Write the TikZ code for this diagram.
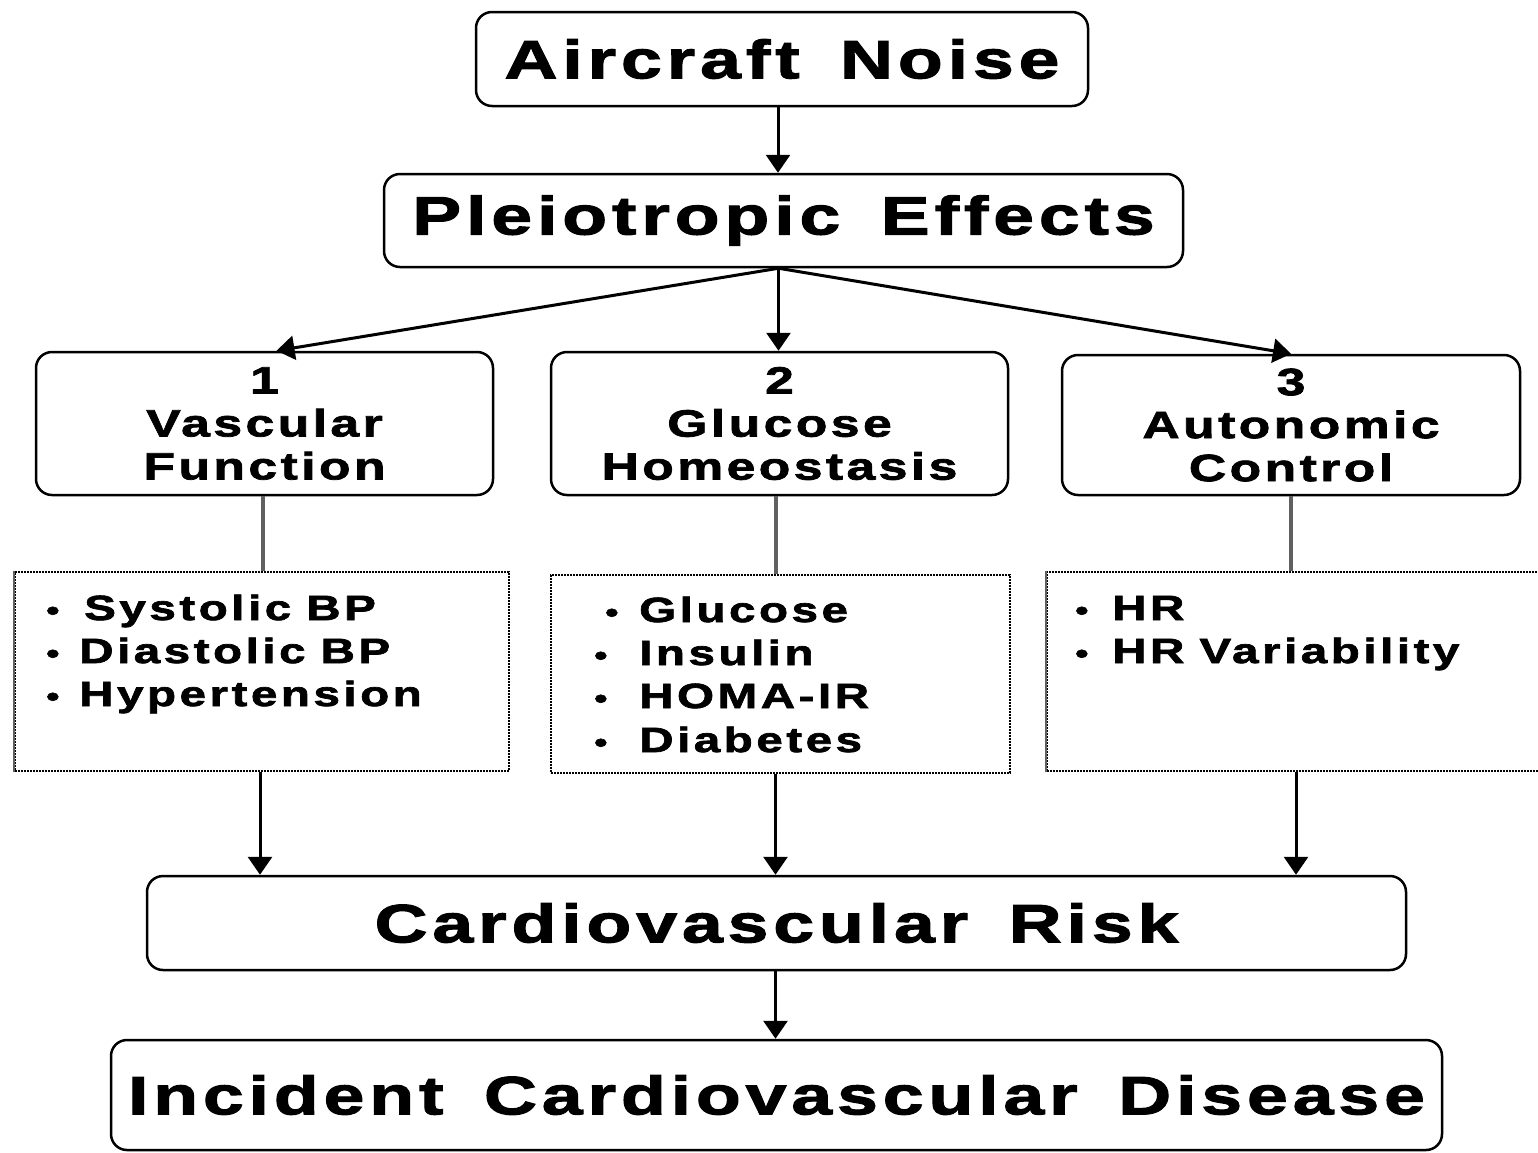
\documentclass[tikz,border=0pt]{standalone}
\usepackage{fontspec}
\setmainfont{Liberation Sans}[FakeStretch=1.36,LetterSpace=9,WordSpace=1.6,FakeBold=2]
\newfontfamily\listfam{Liberation Sans}[FakeStretch=1.36,LetterSpace=10,WordSpace=0.9,FakeBold=2]
\usetikzlibrary{arrows.meta,calc}
\newcommand{\bul}{{\fontsize{28}{28}\selectfont\raisebox{0pt}{•}}}
\begin{document}
\begin{tikzpicture}[x=1pt,y=-1pt,
  rbox/.style={draw, line width=2.5pt, rounded corners=16pt, inner sep=0pt, align=center},
  bigfont/.style={font=\bfseries\fontsize{54}{60}\selectfont},
  midfont/.style={font=\bfseries\fontsize{38}{43}\selectfont},
  listfont/.style={font=\listfam\bfseries\fontsize{35}{43}\selectfont},
  lbox/.style={draw, densely dotted, line width=2pt, inner sep=0pt},
  arr/.style={line width=3pt, -{Triangle[width=24pt,length=18pt]}},
  link/.style={line width=4pt, draw=gray!75!black},
  item/.style={listfont, anchor=base west, inner sep=0pt}
]
\useasboundingbox (0,0) rectangle (1538,1152);
\fill[white] (0,0) rectangle (1538,1152);

\node[rbox, bigfont, minimum width=612pt, minimum height=94pt] (an) at (782,59) {Aircraft Noise};
\node[rbox, bigfont, minimum width=799pt, minimum height=93pt] (pe) at (783.5,220.5) {Pleiotropic Effects};

\node[rbox, midfont, minimum width=457pt, minimum height=143pt] (b1) at (264.5,423.5) {1\\Vascular\\Function};
\node[rbox, midfont, minimum width=457pt, minimum height=143pt] (b2) at (779.5,423.5) {2\\Glucose\\Homeostasis};
\node[rbox, midfont, minimum width=458pt, minimum height=140pt] (b3) at (1291,425) {3\\Autonomic\\Control};

\node[lbox, minimum width=494pt, minimum height=199pt] (d1) at (262,671.5) {};
\node[lbox, minimum width=459pt, minimum height=198pt] (d2) at (780.5,674) {};
\node[lbox, minimum width=498pt, minimum height=199pt] (d3) at (1296,671.5) {};
\draw[link, line width=2pt] (d1.north west) -- (d1.south west);
\draw[link, line width=2pt] (d3.north west) -- (d3.south west);

\node[item] (i11) at (46,620) {\makebox[38pt][l]{\bul}Systolic BP};
\node[item] (i12) at (46,663) {\makebox[33pt][l]{\bul}Diastolic BP};
\node[item] (i13) at (46,706) {\makebox[33pt][l]{\bul}Hypertension};

\node[item] (i21) at (605,622) {\makebox[34pt][l]{\bul}Glucose};
\node[item] (i22) at (594,665) {\makebox[45pt][l]{\bul}Insulin};
\node[item] (i23) at (594,708) {\makebox[45pt][l]{\bul}HOMA-IR};
\node[item] (i24) at (594,752) {\makebox[45pt][l]{\bul}Diabetes};

\node[item] (i31) at (1075,620) {\makebox[37pt][l]{\bul}HR};
\node[item] (i32) at (1075,663) {\makebox[37pt][l]{\bul}HR Variability};

\node[rbox, bigfont, minimum width=1259pt, minimum height=94pt] (cr) at (776.5,923) {Cardiovascular Risk};
\node[rbox, bigfont, minimum width=1331pt, minimum height=110pt] (icd) at (776.5,1095) {Incident Cardiovascular Disease};

\draw[arr] ($(an.south)+(-4,0)$) -- ($(an.south |- pe.north)+(-4,0)$);
\draw[arr] ($(pe.south)+(-5,0)$) -- ($(b1.north)+(12,0)$);
\draw[arr] ($(pe.south)+(-5,0)$) -- ($(b2.north)+(-1,0)$);
\draw[arr] ($(pe.south)+(-5,0)$) -- (b3.north);

\draw[link] ($(b1.south)+(-2,0)$) -- ($(b1.south |- d1.north)+(-2,0)$);
\draw[link] ($(b2.south)+(-4,0)$) -- ($(b2.south |- d2.north)+(-4,0)$);
\draw[link] (b3.south) -- (b3.south |- d3.north);

\draw[arr] ($(d1.south)+(-2,0)$) -- ($(d1.south |- cr.north)+(-2,0)$);
\draw[arr] ($(d2.south)+(-5,0)$) -- ($(d2.south |- cr.north)+(-5,0)$);
\draw[arr] (d3.south) -- (d3.south |- cr.north);

\draw[arr] ($(cr.south)+(-1,0)$) -- ($(cr.south |- icd.north)+(-1,0)$);
\end{tikzpicture}
\end{document}
